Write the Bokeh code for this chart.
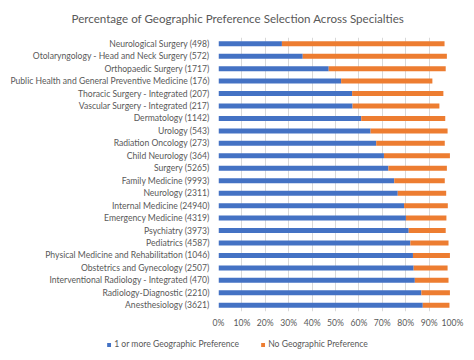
from bokeh.plotting import figure
from bokeh.layouts import column
from bokeh.models import FactorRange, FixedTicker, NumeralTickFormatter, Legend, Title, Range1d
from bokeh.embed import file_html
from bokeh.resources import INLINE

specialties = [
    "Neurological Surgery (498)",
    "Otolaryngology - Head and Neck Surgery (572)",
    "Orthopaedic Surgery (1717)",
    "Public Health and General Preventive Medicine (176)",
    "Thoracic Surgery - Integrated (207)",
    "Vascular Surgery - Integrated (217)",
    "Dermatology (1142)",
    "Urology (543)",
    "Radiation Oncology (273)",
    "Child Neurology (364)",
    "Surgery (5265)",
    "Family Medicine (9993)",
    "Neurology (2311)",
    "Internal Medicine (24940)",
    "Emergency Medicine (4319)",
    "Psychiatry (3973)",
    "Pediatrics (4587)",
    "Physical Medicine and Rehabilitation (1046)",
    "Obstetrics and Gynecology (2507)",
    "Interventional Radiology - Integrated (470)",
    "Radiology-Diagnostic (2210)",
    "Anesthesiology (3621)",
]
one_or_more = [0.271, 0.360, 0.471, 0.524, 0.571, 0.573, 0.610, 0.650, 0.674, 0.707, 0.726,
               0.751, 0.766, 0.793, 0.801, 0.813, 0.820, 0.831, 0.834, 0.839, 0.867, 0.873]
no_pref = [0.695, 0.616, 0.500, 0.390, 0.390, 0.371, 0.359, 0.329, 0.293, 0.282, 0.250,
           0.216, 0.207, 0.187, 0.173, 0.158, 0.163, 0.158, 0.145, 0.144, 0.122, 0.114]
x_ticks = [0, 0.1, 0.2, 0.3, 0.4, 0.5, 0.6, 0.7, 0.8, 0.9, 1.0]
series_names = ["1 or more Geographic Preference", "No Geographic Preference"]
colors = ["#4472C4", "#ED7D31"]

FONT = "Lato"
TXT = "#595959"

data = dict(spec=specialties, a=one_or_more, b=no_pref)

p = figure(width=474, height=332, output_backend="svg", toolbar_location=None,
           y_range=FactorRange(factors=list(reversed(specialties))),
           x_range=(0, 1), min_border_left=218, min_border_right=22,
           min_border_top=37, min_border_bottom=21, frame_align=False)

rs = p.hbar_stack(["a", "b"], y="spec", height=0.4, color=colors,
                  source=data, line_width=0)

p.outline_line_color = None
p.ygrid.grid_line_color = None
p.xgrid.grid_line_color = "#D9D9D9"
p.xgrid.ticker = FixedTicker(ticks=x_ticks)

p.xaxis.ticker = FixedTicker(ticks=x_ticks)
p.xaxis.formatter = NumeralTickFormatter(format="0%")
for ax in (p.xaxis, p.yaxis):
    ax.axis_line_color = None
    ax.major_tick_line_color = None
    ax.minor_tick_line_color = None
    ax.major_tick_out = 0
    ax.major_label_text_font = FONT
    ax.major_label_text_color = TXT
    ax.major_label_text_font_size = "8.6px"
p.xaxis.major_label_standoff = 6
p.yaxis.major_label_standoff = 9

p.add_layout(Title(text="Percentage of Geographic Preference Selection Across Specialties",
                   align="left", offset=-147, vertical_align="top",
                   text_font=FONT, text_font_size="11.6px",
                   text_color=TXT, text_font_style="normal", standoff=22), "above")

# separate strip carrying the legend, centred on the whole chart like the original;
# its renderers share the data but its x range keeps the bars out of view
lg = figure(width=474, height=24, output_backend="svg", toolbar_location=None,
            x_range=Range1d(-3, -2), y_range=FactorRange(factors=list(reversed(specialties))),
            min_border=0, frame_align=False,
            x_axis_location=None, y_axis_location=None)
lg.grid.visible = False
lg.outline_line_color = None
lrs = lg.hbar_stack(["a", "b"], y="spec", height=0.4, color=colors, source=data, line_width=0)
legend = Legend(items=[(series_names[0], [lrs[0]]), (series_names[1], [lrs[1]])],
                orientation="horizontal", location="center",
                padding=0, margin=0, spacing=21, label_standoff=3,
                glyph_width=5, glyph_height=5, label_height=12,
                label_text_font=FONT, label_text_font_size="8.6px", label_text_color=TXT,
                border_line_color=None, background_fill_alpha=0)
lg.add_layout(legend, "center")

layout = column(p, lg, spacing=0)
open("out.html", "w").write(file_html(layout, INLINE))
